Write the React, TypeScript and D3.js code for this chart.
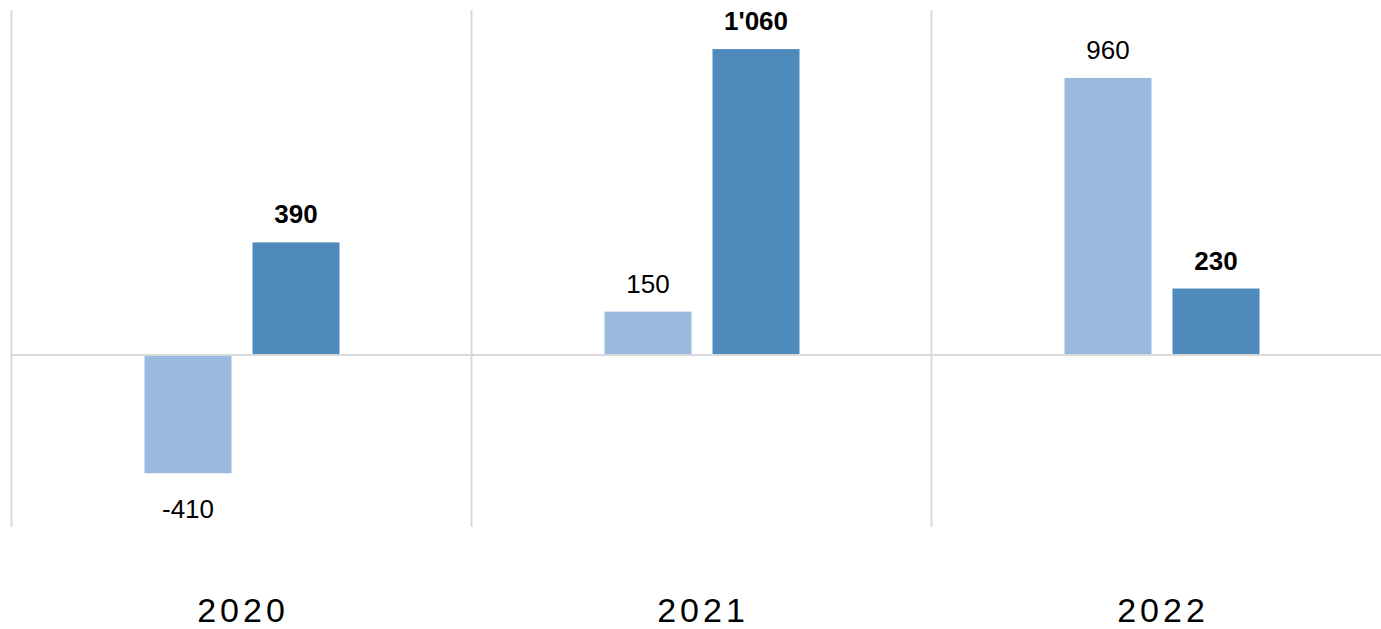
import React from 'react';
import * as d3 from 'd3';

const years = ['2020', '2021', '2022'];
const seriesKeys = ['a', 'b'];
const seriesA = [-410, 150, 960];
const seriesB = [390, 1060, 230];

const W = 1381, H = 629;
const colors: Record<string, string> = { a: '#9ab9df', b: '#4f8abd' };
const fmt0 = d3.formatLocale({ decimal: '.', thousands: "'", grouping: [3], currency: ['', ''], minus: '-' }).format(',d');
const fmt = (v: number) => fmt0(v).replace('\u2212', '-');

export default function App() {
  const x = d3.scaleBand().domain(years).range([11, 11 + 460 * 3]).padding(0);
  const inner = d3.scaleBand().domain(seriesKeys).range([-96.5, 98.5]).paddingInner(21 / 108);
  const y = d3.scaleLinear().domain([-600, 1192]).range([528, 11]);
  const rows = years.map((yr, i) => ({ yr, a: seriesA[i], b: seriesB[i] }));

  return (
    <div style={{ position: 'absolute', left: 0, top: 0 }}>
      <svg width={W} height={H} style={{ display: 'block', fontFamily: 'Liberation Sans, Arial, sans-serif' }}>
        <rect width={W} height={H} fill="#fff" />
        {years.map((yr) => (
          <line key={yr} x1={x(yr)! + 0.5} x2={x(yr)! + 0.5} y1={10} y2={527} stroke="#d9d9d9" strokeWidth={2} />
        ))}
        {rows.map((r) => {
          const cx = x(r.yr)! + x.bandwidth() / 2;
          return seriesKeys.map((k) => {
            const v = (r as any)[k] as number;
            const bx = cx + inner(k)!;
            const top = Math.min(y(v), y(0));
            const h = Math.abs(y(v) - y(0));
            const ly = v >= 0 ? y(v) - 19 : y(v) + 45;
            return (
              <g key={r.yr + k}>
                <rect x={bx} y={top} width={inner.bandwidth()} height={h} fill={colors[k]} />
                <text x={bx + inner.bandwidth() / 2} y={ly} textAnchor="middle" fontSize={26}
                  fontWeight={k === 'b' ? 'bold' : 'normal'} fill="#000">{fmt(v)}</text>
              </g>
            );
          });
        })}
        <line x1={11} x2={W} y1={y(0)} y2={y(0)} stroke="#d9d9d9" strokeWidth={2} />
        {years.map((yr) => (
          <text key={yr} x={x(yr)! + x.bandwidth() / 2 + 2} y={622} textAnchor="middle" fontSize={34}
            letterSpacing={4} fill="#000">{yr}</text>
        ))}
      </svg>
    </div>
  );
}
